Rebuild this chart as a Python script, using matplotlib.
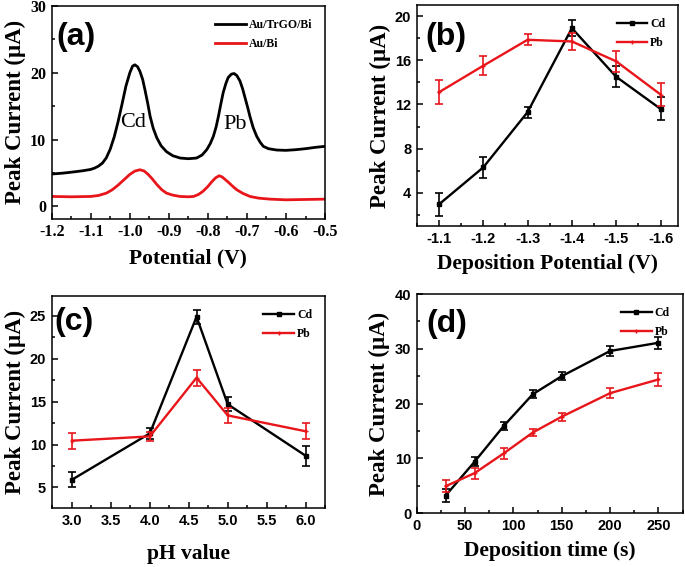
import matplotlib
matplotlib.use("Agg")
import matplotlib.pyplot as plt
from matplotlib.ticker import MultipleLocator, FormatStrFormatter

plt.rcParams['axes.unicode_minus'] = False

# ---------------- data ----------------
# (a) stripping voltammograms
pot_a = [-1.2, -1.17, -1.14, -1.12, -1.10, -1.09, -1.08, -1.07, -1.06, -1.05, -1.04, -1.03,
         -1.02, -1.01, -1.00, -0.993, -0.987, -0.980, -0.974, -0.967, -0.961, -0.954, -0.948,
         -0.940, -0.931, -0.92, -0.906, -0.89, -0.871, -0.85, -0.829, -0.815, -0.803, -0.794,
         -0.786, -0.779, -0.773, -0.767, -0.761, -0.754, -0.748, -0.740, -0.733, -0.726, -0.718,
         -0.711, -0.705, -0.698, -0.692, -0.684, -0.675, -0.666, -0.658, -0.645, -0.624, -0.60,
         -0.575, -0.55, -0.525, -0.5]
trgo_a = [4.86, 5.0, 5.2, 5.35, 5.55, 5.75, 6.05, 6.5, 7.3, 8.6, 10.4, 12.7,
          15.3, 18.0, 20.0, 21.0, 21.2, 20.9, 20.2, 19.0, 17.4, 15.4, 13.5,
          11.7, 10.3, 9.1, 8.2, 7.6, 7.25, 7.15, 7.25, 7.7, 8.5, 9.4,
          10.5, 11.9, 13.5, 15.3, 17.0, 18.4, 19.3, 19.8, 19.9, 19.6, 18.8,
          17.6, 16.3, 14.8, 13.4, 11.8, 10.5, 9.6, 9.0, 8.65, 8.45, 8.4,
          8.5, 8.65, 8.85, 9.0]
pot_r = [-1.2, -1.15, -1.10, -1.08, -1.06, -1.045, -1.03, -1.015, -1.00, -0.987, -0.974, -0.963,
         -0.953, -0.942, -0.931, -0.918, -0.906, -0.89, -0.871, -0.85, -0.837, -0.824, -0.812,
         -0.80, -0.79, -0.78, -0.771, -0.763, -0.755, -0.748, -0.737, -0.726, -0.71, -0.692,
         -0.67, -0.641, -0.60, -0.55, -0.5]
bi_a = [1.5, 1.45, 1.5, 1.65, 2.0, 2.5, 3.2, 4.0, 4.8, 5.3, 5.5, 5.3,
        4.8, 4.1, 3.3, 2.5, 2.0, 1.7, 1.5, 1.45, 1.5, 1.8, 2.3,
        3.0, 3.7, 4.3, 4.6, 4.4, 4.0, 3.65, 3.05, 2.5, 1.95, 1.5,
        1.25, 1.1, 1.0, 1.05, 1.1]

# (b) deposition potential
dep_pot = [-1.1, -1.2, -1.3, -1.4, -1.5, -1.6]
cd_b = [2.95, 6.3, 11.3, 18.9, 14.5, 11.6]
cd_b_err = [1.0, 0.95, 0.5, 0.7, 0.95, 1.05]
pb_b = [13.1, 15.5, 17.85, 17.7, 15.9, 12.9]
pb_b_err = [1.1, 0.85, 0.5, 0.8, 0.95, 1.0]

# (c) pH value
ph = [3.0, 4.0, 4.6, 5.0, 6.0]
cd_c = [5.9, 11.3, 24.9, 14.7, 8.7]
cd_c_err = [0.9, 0.6, 0.8, 0.8, 1.15]
pb_c = [10.45, 10.95, 17.8, 13.4, 11.55]
pb_c_err = [0.95, 0.55, 0.95, 0.9, 0.95]

# (d) deposition time
dep_t = [30, 60, 90, 120, 150, 200, 250]
cd_d = [3.2, 9.4, 15.9, 21.7, 25.0, 29.6, 31.1]
cd_d_err = [1.1, 0.9, 0.75, 0.7, 0.75, 0.9, 1.1]
pb_d = [4.9, 7.3, 10.9, 14.7, 17.6, 21.9, 24.4]
pb_d_err = [1.05, 1.0, 1.0, 0.65, 0.75, 0.9, 1.15]

RED = '#e8161b'
SERIF = 'Liberation Serif'
SANS = 'Liberation Sans'

fig = plt.figure(figsize=(6.85, 5.67), dpi=100)
axA = fig.add_axes([0.0755, 0.6146, 0.399, 0.3748])
axB = fig.add_axes([0.6083, 0.6014, 0.3819, 0.3898])
axC = fig.add_axes([0.0755, 0.1041, 0.399, 0.3734])
axD = fig.add_axes([0.6083, 0.0952, 0.3883, 0.3862])


def style(ax, tickfont, ticksize):
    for s in ax.spines.values():
        s.set_linewidth(1.1)
    ax.tick_params(which='both', direction='in', top=False, right=False, width=1.1)
    ax.tick_params(which='major', length=4.5, pad=4)
    ax.tick_params(which='minor', length=2.5)
    for lab in ax.get_xticklabels() + ax.get_yticklabels():
        lab.set_fontfamily(tickfont)
        lab.set_fontweight('bold')
        lab.set_fontsize(ticksize)


def labels(ax, xl, letter, lx, ly):
    ax.set_xlabel(xl, fontfamily=SERIF, fontweight='bold', fontsize=15.5, labelpad=6)
    ax.set_ylabel('Peak Current (\u03bcA)', fontfamily=SERIF, fontweight='bold', fontsize=16.5, labelpad=3)
    ax.text(lx, ly, letter, transform=ax.transAxes, fontfamily=SANS, fontweight='bold',
            fontsize=23, ha='left', va='center')


def leg(ax):
    ax.legend(loc='upper right', frameon=False, prop={'family': SERIF, 'weight': 'bold', 'size': 8.5},
              handlelength=2.6, handletextpad=0.25, borderaxespad=0.7, labelspacing=0.6)


# ---- (a)
axA.plot(pot_a, trgo_a, color='black', lw=2.0, label='Au/TrGO/Bi', solid_joinstyle='round')
axA.plot(pot_r, bi_a, color=RED, lw=2.0, label='Au/Bi', solid_joinstyle='round')
axA.set_xlim(-1.2, -0.5)
axA.set_ylim(-1.8, 30)
axA.xaxis.set_major_locator(MultipleLocator(0.1))
axA.xaxis.set_minor_locator(MultipleLocator(0.05))
axA.xaxis.set_major_formatter(FormatStrFormatter('%.1f'))
axA.yaxis.set_major_locator(MultipleLocator(10))
axA.yaxis.set_minor_locator(MultipleLocator(5))
axA.text(-0.992, 12.6, 'Cd', fontfamily=SERIF, fontsize=16, ha='center', va='center')
axA.text(-0.731, 12.3, 'Pb', fontfamily=SERIF, fontsize=16, ha='center', va='center')
labels(axA, 'Potential (V)', '(a)', 0.016, 0.855)
leg(axA)
style(axA, SERIF, 11.5)


def eplot(ax, x, y, e, color, marker, label):
    ax.errorbar(x, y, yerr=e, fmt='none', ecolor=color, elinewidth=1.2, capsize=2.8, capthick=1.2)
    ax.plot(x, y, color=color, lw=1.7, marker=marker, ms=3, mew=1.0, label=label)


# ---- (b)
eplot(axB, dep_pot, cd_b, cd_b_err, 'black', 's', 'Cd')
eplot(axB, dep_pot, pb_b, pb_b_err, RED, '+', 'Pb')
axB.set_xlim(-1.05, -1.64)
axB.set_ylim(1.0, 21.0)
axB.xaxis.set_major_locator(MultipleLocator(0.1))
axB.xaxis.set_minor_locator(MultipleLocator(0.05))
axB.xaxis.set_major_formatter(FormatStrFormatter('%.1f'))
axB.yaxis.set_major_locator(MultipleLocator(4))
axB.yaxis.set_minor_locator(MultipleLocator(2))
labels(axB, 'Deposition Potential (V)', '(b)', 0.035, 0.857)
leg(axB)
style(axB, SANS, 10.5)

# ---- (c)
eplot(axC, ph, cd_c, cd_c_err, 'black', 's', 'Cd')
eplot(axC, ph, pb_c, pb_c_err, RED, '+', 'Pb')
axC.set_xlim(2.74, 6.25)
axC.set_ylim(2.6, 27.3)
axC.xaxis.set_major_locator(MultipleLocator(0.5))
axC.xaxis.set_minor_locator(MultipleLocator(0.25))
axC.xaxis.set_major_formatter(FormatStrFormatter('%.1f'))
axC.yaxis.set_major_locator(MultipleLocator(5))
axC.yaxis.set_minor_locator(MultipleLocator(2.5))
labels(axC, 'pH value', '(c)', 0.01, 0.88)
axC.xaxis.labelpad = 12
leg(axC)
style(axC, SANS, 10.5)

# ---- (d)
eplot(axD, dep_t, cd_d, cd_d_err, 'black', 's', 'Cd')
eplot(axD, dep_t, pb_d, pb_d_err, RED, '+', 'Pb')
axD.set_xlim(0, 275)
axD.set_ylim(0, 40)
axD.xaxis.set_major_locator(MultipleLocator(50))
axD.xaxis.set_minor_locator(MultipleLocator(25))
axD.yaxis.set_major_locator(MultipleLocator(10))
axD.yaxis.set_minor_locator(MultipleLocator(5))
labels(axD, 'Deposition time (s)', '(d)', 0.035, 0.864)
leg(axD)
style(axD, SANS, 10.5)

fig.savefig('out.png', dpi=100)
